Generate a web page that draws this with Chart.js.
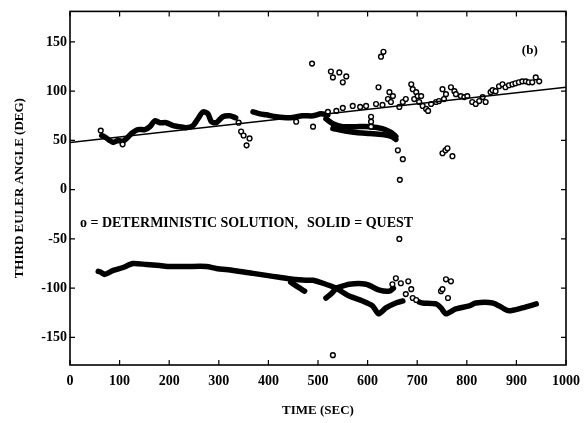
<!DOCTYPE html>
<html>
<head>
<meta charset="utf-8">
<script src="https://cdn.jsdelivr.net/npm/chart.js@4"></script>
<style>
html, body { margin: 0; padding: 0; background: #fff; }
</style>
</head>
<body>
<canvas id="eulerChart" width="588" height="423"></canvas>
<script>
// 軸の目盛り
var xTicks = [0, 100, 200, 300, 400, 500, 600, 700, 800, 900, 1000];
var yTicks = [-150, -100, -50, 0, 50, 100, 150];

// QUEST (実線)
var quest = [[0, 48], [1000, 104]];

// deterministic solution: 点が密で太線に見える部分 [time, angle]
var upperTrackA = [[64,55],[72,53],[80,50],[87,48],[97,50],[106,49],[114,52],[124,57],[137,61],[151,61],[161,64],[171,70],[181,68],[194,68],[208,65],[221,64],[235,63],[248,65],[258,72],[268,79],[278,77],[285,69],[295,68],[308,74],[322,75],[334,73]];
var upperTrackB = [[369,79],[383,77],[396,76],[416,74],[443,73],[469,75],[490,75],[506,77],[520,76]];
var loopTop = [[516,72],[530,67],[550,64],[577,64],[604,64],[630,62],[648,58],[657,54]];
var loopBottom = [[530,62],[550,60],[577,58],[604,57],[630,56],[648,54],[657,51]];
var lowerTrack = [[57,-83],[63,-84],[70,-86],[87,-82],[107,-79],[127,-75],[154,-76],[181,-77],[201,-78],[235,-78],[275,-78],[295,-80],[329,-82],[369,-85],[396,-87],[422,-89],[449,-91],[476,-92],[490,-92],[516,-96],[537,-100]];
var lowerSplitUp = [[537,-100],[563,-96],[597,-96],[624,-102],[644,-103],[652,-100]];
var lowerSplitDown = [[537,-100],[563,-108],[590,-113],[610,-118],[622,-126],[637,-120],[657,-115],[671,-113]];
var lowerTail = [[704,-114],[711,-115],[738,-116],[748,-120],[758,-126],[778,-121],[805,-118],[818,-115],[852,-115],[872,-120],[885,-123],[912,-120],[940,-116]];
var lowerSpur = [[445,-94],[460,-99],[473,-103]];
var lowerSpur2 = [[516,-110],[526,-106],[537,-100]];

// まばらな丸印
var sparseUpper = [[62,60],[106,46],[340,68],[345,59],[350,55],[356,45],[362,52],[456,69],[490,64],[488,128],[526,120],[530,114],[543,119],[550,109],[557,115],[622,104],[627,135],[632,140],[607,74],[607,69],[607,64],[661,40],[671,31],[665,10],[751,37],[757,40],[761,42],[771,34],[664,-50],[530,-168]];
var alongLine = [[520,79],[537,80],[550,83],[570,85],[585,84],[597,85],[617,87],[630,86]];
var upperRight = [[641,92],[644,99],[647,89],[651,95],[664,84],[671,89],[677,92],[688,107],[691,102],[694,92],[698,99],[701,95],[704,89],[708,95],[711,85],[718,82],[722,80],[728,87],[738,89],[744,90],[751,102],[754,92],[758,97],[768,104],[775,100],[778,97],[788,95],[795,94],[801,95],[811,89],[818,87],[825,90],[832,94],[838,89],[848,99],[852,101],[858,100],[865,105],[872,107],[878,104],[885,106],[892,107],[898,108],[905,109],[912,110],[919,110],[925,109],[932,109],[939,114],[946,110]];
var lowerSparse = [[650,-96],[657,-90],[667,-95],[677,-106],[682,-93],[688,-101],[691,-110],[698,-112],[748,-103],[751,-101],[758,-91],[762,-110],[768,-93]];

var serif = '"Liberation Serif", "DejaVu Serif", serif';

function pts(list) {
  return list.map(function(p) { return { x: p[0], y: p[1] }; });
}

function track(list) {
  return {
    data: pts(list),
    showLine: true,
    borderColor: '#000',
    borderWidth: 5.5,
    borderCapStyle: 'round',
    borderJoinStyle: 'round',
    tension: 0.25,
    pointRadius: 0
  };
}

function circles(list) {
  return {
    data: pts(list),
    showLine: false,
    pointStyle: 'circle',
    pointRadius: 2.4,
    pointBorderWidth: 1.4,
    pointBorderColor: '#000',
    pointBackgroundColor: '#fff'
  };
}

// 枠・内向きの目盛り・注記
var framePlugin = {
  id: 'frame',
  afterDraw: function(chart) {
    var c = chart.ctx;
    var a = chart.chartArea;
    var xs = chart.scales.x;
    var ys = chart.scales.y;
    c.save();
    c.strokeStyle = '#000';
    c.lineWidth = 1.6;
    c.strokeRect(a.left, a.top, a.right - a.left, a.bottom - a.top);
    c.lineWidth = 1.2;
    c.beginPath();
    xTicks.forEach(function(v) {
      var p = xs.getPixelForValue(v);
      c.moveTo(p, a.bottom); c.lineTo(p, a.bottom - 5);
      c.moveTo(p, a.top); c.lineTo(p, a.top + 5);
    });
    yTicks.forEach(function(v) {
      var p = ys.getPixelForValue(v);
      c.moveTo(a.left, p); c.lineTo(a.left + 5, p);
      c.moveTo(a.right, p); c.lineTo(a.right - 5, p);
    });
    c.stroke();
    c.fillStyle = '#000';
    c.textBaseline = 'middle';
    c.font = 'bold 14px ' + serif;
    c.fillText('o = DETERMINISTIC SOLUTION,', xs.getPixelForValue(20), ys.getPixelForValue(-34));
    c.fillText('SOLID = QUEST', xs.getPixelForValue(478), ys.getPixelForValue(-34));
    c.font = 'bold 13px ' + serif;
    c.fillText('(b)', xs.getPixelForValue(911), ys.getPixelForValue(141));
    c.restore();
  }
};

var chart = new Chart(document.getElementById('eulerChart'), {
  type: 'scatter',
  data: {
    datasets: [
      {
        data: pts(quest),
        showLine: true,
        borderColor: '#000',
        borderWidth: 1.5,
        pointRadius: 0
      },
      circles(sparseUpper),
      circles(alongLine),
      circles(upperRight),
      circles(lowerSparse),
      track(upperTrackA),
      track(upperTrackB),
      track(loopTop),
      track(loopBottom),
      track(lowerTrack),
      track(lowerSplitUp),
      track(lowerSplitDown),
      track(lowerTail),
      track(lowerSpur),
      track(lowerSpur2)
    ]
  },
  options: {
    responsive: false,
    animation: false,
    layout: { padding: { top: 6, right: 21, left: 0, bottom: 0 } },
    plugins: {
      legend: { display: false },
      tooltip: { enabled: false }
    },
    scales: {
      x: {
        type: 'linear',
        min: 0,
        max: 1000,
        afterBuildTicks: function(scale) {
          scale.ticks = xTicks.map(function(v) { return { value: v }; });
        },
        afterFit: function(scale) { scale.height = 58; },
        grid: { display: false, drawTicks: false },
        border: { display: false },
        ticks: {
          color: '#000',
          padding: 8,
          maxRotation: 0,
          callback: function(v) { return String(v); },
          font: { family: serif, size: 14, weight: 'bold' }
        },
        title: {
          display: true,
          text: 'TIME (SEC)',
          color: '#000',
          padding: { top: 0, bottom: 5 },
          font: { family: serif, size: 13, weight: 'bold' }
        }
      },
      y: {
        type: 'linear',
        min: -178,
        max: 181,
        afterBuildTicks: function(scale) {
          scale.ticks = yTicks.map(function(v) { return { value: v }; });
        },
        afterFit: function(scale) { scale.width = 70; },
        grid: { display: false, drawTicks: false },
        border: { display: false },
        ticks: {
          color: '#000',
          padding: 3,
          callback: function(v) { return String(v); },
          font: { family: serif, size: 14, weight: 'bold' }
        },
        title: {
          display: true,
          text: 'THIRD EULER ANGLE (DEG)',
          color: '#000',
          padding: { top: 12, bottom: 0 },
          font: { family: serif, size: 13, weight: 'bold' }
        }
      }
    }
  },
  plugins: [framePlugin]
});
</script>
</body>
</html>
